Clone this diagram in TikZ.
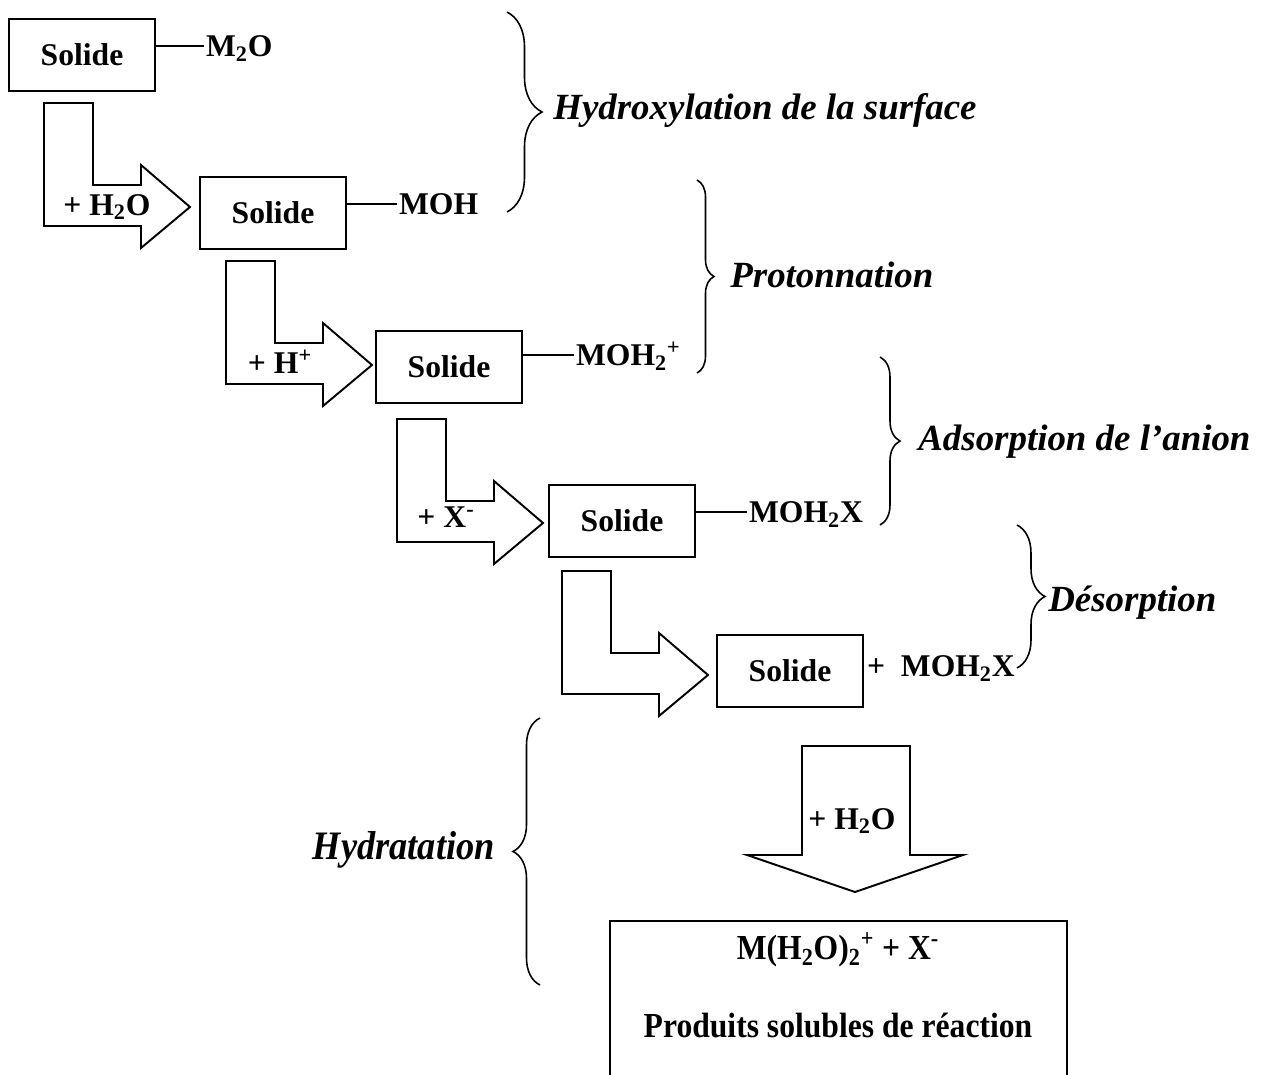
\documentclass[tikz,border=0pt]{standalone}
\usepackage{fontspec}
\setmainfont{Liberation Serif}
\newfontfamily\condfont[FakeStretch=0.9]{Liberation Serif}
\usetikzlibrary{decorations.pathreplacing}

\tikzset{
  solide/.style={draw, line width=1.1pt, minimum width=2.92cm, minimum height=1.44cm,
    font=\fontsize{18}{20}\selectfont\bfseries},
  espece/.style={anchor=west, inner sep=1pt, text height=12pt, text depth=0pt,
    font=\fontsize{18}{20}\selectfont\bfseries},
  ajout/.style={inner sep=0pt, font=\fontsize{18}{20}\selectfont\bfseries},
  larrow/.style={draw, line width=1.1pt},
  accol/.style={decorate, decoration={brace, amplitude=#1}, line width=0.9pt},
  etape/.style={inner sep=0pt, font=\fontsize{21}{24}\selectfont\bfseries\itshape},
  final/.style={inner sep=0pt, font=\condfont\fontsize{20}{24}\selectfont\bfseries},
}

\begin{document}
\begin{tikzpicture}[x=0.02cm, y=-0.02cm]
\useasboundingbox (0,0) rectangle (1269,1075);
\clip (0,0) rectangle (1269,1075);

% --- Solide boxes ---
\node[solide] (s1) at (82,55) {Solide};
\node[solide] (s2) at (273,213) {Solide};
\node[solide] (s3) at (449,367) {Solide};
\node[solide] (s4) at (622,521) {Solide};
\node[solide] (s5) at (790,671) {Solide};

% --- surface species ---
\node[espece] (m1) at (204,46) {M\textsubscript{2}O};
\node[espece] (m2) at (397,204) {MOH};
\node[espece] (m3) at (574,355) {MOH\textsubscript{2}\textsuperscript{+}};
\node[espece] (m4) at (747,512) {MOH\textsubscript{2}X};
\node[espece] (m5) at (865,666) {+\enspace MOH\textsubscript{2}X};

\draw[line width=1.1pt] (s1.east |- m1.west) -- (m1.west);
\draw[line width=1.1pt] (s2.east |- m2.west) -- (m2.west);
\draw[line width=1.1pt] (s3.east |- m3.west) -- (m3.west);
\draw[line width=1.1pt] (s4.east |- m4.west) -- (m4.west);

% --- L-shaped arrows ---
\foreach \sx/\sy in {44/103,226/261,397/419,562/571}
  \draw[larrow] (\sx,\sy) -- ++(49,0) -- ++(0,82) -- ++(48,0) -- ++(0,-20)
    -- ++(49,42) -- ++(-49,41) -- ++(0,-22) -- ++(-97,0) -- cycle;

\node[ajout] (a1) at (107,207) {+ H\textsubscript{2}O};
\node[ajout] (a2) at (280,362) {+ H\textsuperscript{+}};
\node[ajout] (a3) at (446,517) {+ X\textsuperscript{-}};

% --- braces and steps ---
\draw[accol=0.7cm] (507,12) -- (507,212);
\node[etape, anchor=west] (e1) at (553,110) {Hydroxylation de la surface};

\draw[accol=0.34cm] (697,180) -- (697,373);
\node[etape, anchor=west] (e2) at (730,275) {Protonnation};

\draw[accol=0.4cm] (880,357) -- (880,525);
\node[etape, anchor=west] (e3) at (918,442) {Adsorption de l’anion};

\draw[accol=0.56cm] (1017,525) -- (1017,668);
\node[etape, anchor=west] (e4) at (1048,603) {Désorption};

\draw[accol=0.54cm] (540,985) -- (540,718);
\node[etape, anchor=east, font=\condfont\fontsize{23}{26}\selectfont\bfseries\itshape] (e5) at (495,850) {Hydratation};

% --- hydration arrow and products ---
\draw[larrow] (802,746) -- (910,746) -- (910,855) -- (963,855) -- (855,892)
  -- (747,855) -- (802,855) -- cycle;
\node[ajout] (a4) at (852,821) {+ H\textsubscript{2}O};

\node[draw, line width=1.1pt, anchor=north, minimum width=9.14cm, minimum height=3.5cm] (prod) at (838.5,920) {};
\node[final] (f1) at (838,950) {M(H\textsubscript{2}O)\textsubscript{2}\textsuperscript{+} + X\textsuperscript{-}};
\node[final] (f2) at (838,1025) {Produits solubles de réaction};
\end{tikzpicture}
\end{document}
